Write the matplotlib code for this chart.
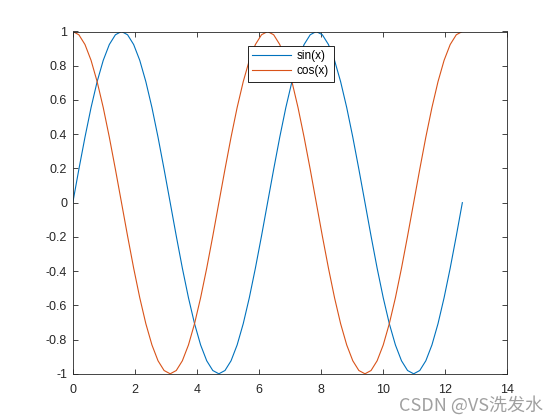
import matplotlib.pyplot as plt

# MATLAB-like look
plt.rcParams['font.family'] = ['Liberation Sans', 'DejaVu Sans']

# sample points, step pi/16 from 0 to 4*pi
x = [0, 0.196, 0.393, 0.589, 0.785, 0.982, 1.178, 1.374, 1.571, 1.767, 1.963,
     2.160, 2.356, 2.553, 2.749, 2.945, 3.142, 3.338, 3.534, 3.731, 3.927,
     4.123, 4.320, 4.516, 4.712, 4.909, 5.105, 5.301, 5.498, 5.694, 5.890,
     6.087, 6.283, 6.480, 6.676, 6.872, 7.069, 7.265, 7.461, 7.658, 7.854,
     8.050, 8.247, 8.443, 8.639, 8.836, 9.032, 9.228, 9.425, 9.621, 9.817,
     10.014, 10.210, 10.407, 10.603, 10.799, 10.996, 11.192, 11.388, 11.585,
     11.781, 11.977, 12.174, 12.370, 12.566]

sin_y = [0, .1951, .3827, .5556, .7071, .8315, .9239, .9808, 1,
         .9808, .9239, .8315, .7071, .5556, .3827, .1951, 0,
         -.1951, -.3827, -.5556, -.7071, -.8315, -.9239, -.9808, -1,
         -.9808, -.9239, -.8315, -.7071, -.5556, -.3827, -.1951, 0,
         .1951, .3827, .5556, .7071, .8315, .9239, .9808, 1,
         .9808, .9239, .8315, .7071, .5556, .3827, .1951, 0,
         -.1951, -.3827, -.5556, -.7071, -.8315, -.9239, -.9808, -1,
         -.9808, -.9239, -.8315, -.7071, -.5556, -.3827, -.1951, 0]

cos_y = [1, .9808, .9239, .8315, .7071, .5556, .3827, .1951, 0,
         -.1951, -.3827, -.5556, -.7071, -.8315, -.9239, -.9808, -1,
         -.9808, -.9239, -.8315, -.7071, -.5556, -.3827, -.1951, 0,
         .1951, .3827, .5556, .7071, .8315, .9239, .9808, 1,
         .9808, .9239, .8315, .7071, .5556, .3827, .1951, 0,
         -.1951, -.3827, -.5556, -.7071, -.8315, -.9239, -.9808, -1,
         -.9808, -.9239, -.8315, -.7071, -.5556, -.3827, -.1951, 0,
         .1951, .3827, .5556, .7071, .8315, .9239, .9808, 1]

xticks = [0, 2, 4, 6, 8, 10, 12, 14]
yticks = [-1, -0.8, -0.6, -0.4, -0.2, 0, 0.2, 0.4, 0.6, 0.8, 1]
ytick_labels = ['-1', '-0.8', '-0.6', '-0.4', '-0.2', '0', '0.2', '0.4', '0.6', '0.8', '1']

fig = plt.figure(figsize=(5.6, 4.2), dpi=100)
ax = fig.add_axes([0.13, 0.11, 0.775, 0.815])

ax.plot(x, sin_y, color='#0072BD', lw=0.8, label='sin(x)')
ax.plot(x, cos_y, color='#D95319', lw=0.8, label='cos(x)')

ax.set_xlim(0, 14)
ax.set_ylim(-1, 1)
ax.set_xticks(xticks)
ax.set_yticks(yticks)
ax.set_yticklabels(ytick_labels)
ax.tick_params(direction='in', length=3.5, width=0.6, labelsize=9,
               top=True, right=True, colors='#262626')
ax.tick_params(axis='x', pad=7)
ax.tick_params(axis='y', pad=4)
for s in ax.spines.values():
    s.set_linewidth(0.6)
    s.set_color('#262626')

leg = ax.legend(loc='upper center', bbox_to_anchor=(0.502, 0.959),
                borderaxespad=0, fontsize=8.5, handlelength=3.3,
                handletextpad=0.45, fancybox=False, framealpha=1,
                edgecolor='black', borderpad=0.4, labelspacing=0.25)
leg.get_frame().set_linewidth(0.6)

# watermark
fig.text(0.97, 0.035, 'CSDN @VS洗发水', ha='right', va='center', fontsize=13,
         color='#a0a0a0', family=['Noto Sans CJK SC', 'DejaVu Sans'])

fig.savefig('out.png', dpi=100)
